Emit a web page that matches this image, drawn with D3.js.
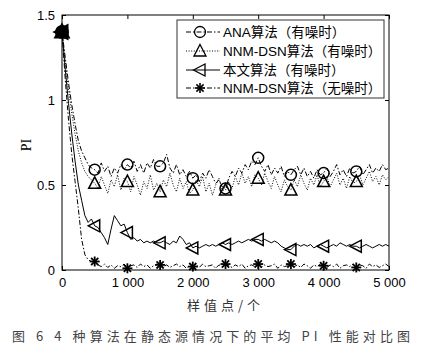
<!DOCTYPE html>
<html><head><meta charset="utf-8">
<script src="https://cdn.jsdelivr.net/npm/d3@7"></script>
<style>body{margin:0;background:#fff}svg{display:block}</style>
</head><body>
<svg id="c" width="421" height="354"></svg>
<script>
// ---- data ----
const samples = d3.range(0, 5001, 50);
const seriesNames = ["ANA算法（有噪时）", "NNM-DSN算法（有噪时）", "本文算法（有噪时）", "NNM-DSN算法（无噪时）"];
const anaValues = [1.40,1.25,1.10,0.97,0.86,0.76,0.70,0.66,0.62,0.60,0.59,
0.57,0.63,0.58,0.61,0.55,0.60,0.57,0.62,0.59,0.62,
0.60,0.64,0.58,0.62,0.57,0.63,0.60,0.65,0.61,0.61,
0.63,0.68,0.60,0.57,0.62,0.56,0.59,0.55,0.58,0.54,
0.56,0.52,0.57,0.54,0.59,0.55,0.51,0.53,0.49,0.48,
0.54,0.58,0.55,0.60,0.57,0.62,0.59,0.64,0.62,0.66,
0.61,0.58,0.62,0.56,0.60,0.57,0.61,0.55,0.58,0.56,
0.59,0.61,0.56,0.60,0.55,0.58,0.54,0.59,0.56,0.57,
0.60,0.55,0.58,0.62,0.56,0.59,0.55,0.60,0.57,0.58,
0.61,0.56,0.59,0.62,0.57,0.60,0.58,0.62,0.59,0.60];
const nnmNoisyValues = [1.40,1.22,1.06,0.92,0.80,0.70,0.63,0.58,0.55,0.53,0.51,
0.48,0.55,0.50,0.45,0.53,0.49,0.56,0.47,0.54,0.52,
0.46,0.55,0.50,0.44,0.52,0.48,0.56,0.47,0.51,0.46,
0.53,0.49,0.57,0.50,0.46,0.54,0.48,0.52,0.45,0.47,
0.53,0.49,0.55,0.46,0.51,0.44,0.50,0.54,0.47,0.47,
0.52,0.48,0.55,0.50,0.57,0.51,0.55,0.49,0.56,0.54,
0.50,0.57,0.52,0.48,0.55,0.50,0.46,0.53,0.49,0.47,
0.53,0.49,0.56,0.51,0.47,0.54,0.50,0.56,0.49,0.52,
0.55,0.49,0.53,0.57,0.50,0.54,0.48,0.55,0.51,0.52,
0.56,0.50,0.54,0.58,0.52,0.55,0.50,0.56,0.53,0.55];
const oursValues = [1.40,1.18,0.98,0.80,0.64,0.50,0.41,0.32,0.28,0.30,0.26,
0.25,0.22,0.19,0.15,0.24,0.32,0.29,0.26,0.27,0.22,
0.18,0.19,0.17,0.18,0.16,0.17,0.16,0.17,0.16,0.16,
0.17,0.16,0.15,0.17,0.16,0.20,0.18,0.15,0.16,0.13,
0.14,0.13,0.14,0.15,0.14,0.15,0.14,0.15,0.16,0.15,
0.16,0.15,0.16,0.17,0.16,0.17,0.18,0.17,0.18,0.18,
0.17,0.18,0.17,0.16,0.17,0.16,0.14,0.13,0.12,0.12,
0.14,0.15,0.14,0.15,0.14,0.15,0.13,0.14,0.15,0.14,
0.13,0.14,0.15,0.14,0.16,0.15,0.14,0.15,0.14,0.14,
0.13,0.14,0.15,0.14,0.13,0.14,0.15,0.14,0.15,0.14];
const nnmCleanValues = [1.40,1.12,0.88,0.68,0.52,0.36,0.18,0.09,0.06,0.05,0.05,
0.03,0.02,0.035,0.015,0.03,0.01,0.025,0.02,0.035,0.01,
0.025,0.03,0.015,0.035,0.02,0.03,0.01,0.025,0.035,0.03,
0.02,0.03,0.015,0.025,0.035,0.02,0.03,0.01,0.025,0.02,
0.03,0.015,0.035,0.02,0.025,0.03,0.01,0.03,0.02,0.035,
0.025,0.015,0.03,0.02,0.035,0.01,0.025,0.03,0.02,0.035,
0.015,0.03,0.02,0.025,0.035,0.01,0.03,0.02,0.025,0.035,
0.02,0.03,0.015,0.035,0.025,0.01,0.03,0.02,0.035,0.025,
0.015,0.03,0.02,0.035,0.01,0.025,0.03,0.02,0.035,0.015,
0.03,0.025,0.01,0.035,0.02,0.03,0.015,0.025,0.035,0.02];
const markerSamples = [0,500,1000,1500,2000,2500,3000,3500,4000,4500];
const xTicks = [0,1000,2000,3000,4000,5000];
const xTickLabels = ["0","1 000","2 000","3 000","4 000","5 000"];
const yTicks = [0,0.5,1,1.5];
const yTickLabels = ["0","0.5","1","1.5"];
const xTitle = "样值点/个";
const yTitle = "PI";
const caption = "图 6   4 种算法在静态源情况下的平均 PI 性能对比图";

// ---- chart ----
const svg = d3.select("#c");
const L = 62, R = 389, T = 15, B = 270;
const x = d3.scaleLinear().domain([0,5000]).range([L,R]);
const y = d3.scaleLinear().domain([0,1.5]).range([B,T]);
const sans = "'Liberation Sans', Arial, sans-serif";
const cjk = "'Liberation Sans', 'Noto Sans CJK SC', sans-serif";

const styles = [
  {vals: anaValues, dash: "5,2,1.5,2", marker: "circle"},
  {vals: nnmNoisyValues, dash: "1,1.6", marker: "tri"},
  {vals: oursValues, dash: null, marker: "ltri"},
  {vals: nnmCleanValues, dash: "5,2,1.5,2", marker: "star"}
];

const line = d3.line().x((d,i)=>x(samples[i])).y(d=>y(d));
const g = svg.append("g");
styles.forEach(s=>{
  g.append("path").attr("d", line(s.vals)).attr("fill","none")
   .attr("stroke","#000").attr("stroke-width",1)
   .attr("stroke-dasharray", s.dash);
});

function drawMarker(sel, type, cx, cy, sw){
  const m = sel.append("g").attr("transform",`translate(${cx},${cy})`)
    .attr("fill","none").attr("stroke","#000").attr("stroke-width",sw||1.5);
  if(type==="circle") m.append("circle").attr("r",5.5);
  else if(type==="tri") m.append("path").attr("d","M0,-6.5L6,5L-6,5Z");
  else if(type==="ltri") m.append("path").attr("d","M-6.5,0L5,-6L5,6Z");
  else {
    m.attr("stroke-width",(sw||1.5)+0.3);
    [[0,-5,0,5],[-5,0,5,0],[-3.6,-3.6,3.6,3.6],[-3.6,3.6,3.6,-3.6]].forEach(l=>
      m.append("line").attr("x1",l[0]).attr("y1",l[1]).attr("x2",l[2]).attr("y2",l[3]));
  }
}
styles.forEach(s=>{
  markerSamples.forEach(ms=>{
    const i = samples.indexOf(ms);
    drawMarker(g, s.marker, x(ms), y(s.vals[i]), ms===0 ? 3 : 1.5);
  });
});

// axes box
const ax = svg.append("g").attr("font-family",sans).attr("font-size",13);
ax.append("rect").attr("x",L).attr("y",T).attr("width",R-L).attr("height",B-T)
  .attr("fill","none").attr("stroke","#000").attr("stroke-width",1);
const bottomAxis = d3.axisBottom(x).tickValues(xTicks).tickSize(-4).tickPadding(8)
  .tickFormat((d,i)=>xTickLabels[i]);
ax.append("g").attr("transform",`translate(0,${B})`).call(bottomAxis);
const topAxis = d3.axisTop(x).tickValues(xTicks).tickSize(-4).tickFormat("");
ax.append("g").attr("transform",`translate(0,${T})`).call(topAxis);
const leftAxis = d3.axisLeft(y).tickValues(yTicks).tickSize(-4).tickPadding(7)
  .tickFormat((d,i)=>yTickLabels[i]);
ax.append("g").attr("transform",`translate(${L},0)`).call(leftAxis);
const rightAxis = d3.axisRight(y).tickValues(yTicks).tickSize(-4).tickFormat("");
ax.append("g").attr("transform",`translate(${R},0)`).call(rightAxis);
ax.selectAll(".domain").remove();
ax.selectAll(".tick line").attr("stroke","#000");
ax.selectAll(".tick text").attr("fill","#000").attr("font-family",sans).attr("font-size",13);

// titles
svg.append("text").attr("transform","translate(31,145) rotate(-90)")
  .attr("text-anchor","middle").attr("font-family","'Liberation Serif', serif")
  .attr("font-size",14).text(yTitle);
svg.append("text").attr("x",187).attr("y",310).attr("textLength",73)
  .attr("lengthAdjust","spacing").attr("font-family","'Noto Sans CJK SC', sans-serif")
  .attr("font-size",13).attr("fill","#333").text(xTitle);
svg.append("text").attr("x",12).attr("y",341).attr("textLength",398)
  .attr("lengthAdjust","spacing").attr("font-family","'Noto Sans CJK SC', sans-serif")
  .attr("font-size",13).attr("fill","#444").text(caption);

// legend
const lg = svg.append("g");
lg.append("rect").attr("x",177).attr("y",20).attr("width",207).attr("height",78)
  .attr("fill","#fff").attr("stroke","#333").attr("stroke-width",1);
const rowY = [32,51,70,88];
styles.forEach((s,i)=>{
  lg.append("line").attr("x1",186).attr("x2",220).attr("y1",rowY[i]).attr("y2",rowY[i])
    .attr("stroke","#000").attr("stroke-width",1).attr("stroke-dasharray", s.dash);
  drawMarker(lg, s.marker, 200, rowY[i], 1.3);
  lg.append("text").attr("x",223).attr("y",rowY[i]+5).attr("font-family",cjk)
    .attr("font-size",13.5).attr("fill","#000").text(seriesNames[i]);
});
</script>
</body></html>
